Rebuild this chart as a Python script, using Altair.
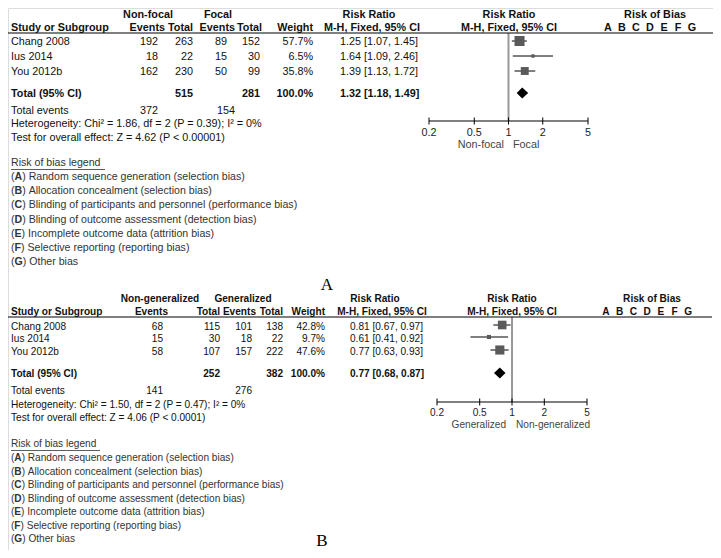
import altair as alt
import numpy as np
import pandas as pd

# ---------------- data ----------------
studies = ["Chang 2008", "Ius 2014", "You 2012b"]

# Panel A: Non-focal vs Focal
a_groups = ["Non-focal", "Focal"]
a_events1 = [192, 18, 162]
a_total1 = [263, 22, 230]
a_events2 = [89, 15, 50]
a_total2 = [152, 30, 99]
a_weight = [57.7, 6.5, 35.8]
a_rr = [1.25, 1.64, 1.39]
a_lo = [1.07, 1.09, 1.13]
a_hi = [1.45, 2.46, 1.72]
a_pooled = [1.32, 1.18, 1.49]
a_sum_total = [515, 281]
a_sum_weight = "100.0%"
a_sum_events = [372, 154]
a_het = ["1.86", "2", "0.39", "0"]
a_test = ["4.62", "< 0.00001"]
a_dir = ["Non-focal", "Focal"]

# Panel B: Non-generalized vs Generalized
b_groups = ["Non-generalized", "Generalized"]
b_events1 = [68, 15, 58]
b_total1 = [115, 30, 107]
b_events2 = [101, 18, 157]
b_total2 = [138, 22, 222]
b_weight = [42.8, 9.7, 47.6]
b_rr = [0.81, 0.61, 0.77]
b_lo = [0.67, 0.41, 0.63]
b_hi = [0.97, 0.92, 0.93]
b_pooled = [0.77, 0.68, 0.87]
b_sum_total = [252, 382]
b_sum_weight = "100.0%"
b_sum_events = [141, 276]
b_het = ["1.50", "2", "0.47", "0"]
b_test = ["4.06", "< 0.0001"]
b_dir = ["Generalized", "Non-generalized"]

ticks = [0.2, 0.5, 1, 2, 5]
tick_labels = ["0.2", "0.5", "1", "2", "5"]
bias_letters = ["A", "B", "C", "D", "E", "F", "G"]
bias_desc = [
    "Random sequence generation (selection bias)",
    "Allocation concealment (selection bias)",
    "Blinding of participants and personnel (performance bias)",
    "Blinding of outcome assessment (detection bias)",
    "Incomplete outcome data (attrition bias)",
    "Selective reporting (reporting bias)",
    "Other bias",
]
panel_labels = ["A", "B"]

# ---------------- layout ----------------
W, H = 705, 542
FONT = "Liberation Sans"
# layout coordinates are page pixels; the vertical ones are squeezed a little
# (only in blank gaps) so that everything fits inside the 8px page margin
PX = alt.Scale(domain=[8, 8 + W], range=[0, W], zero=False, nice=False)
PY = alt.Scale(domain=[8, 8 + H], range=[0, H], zero=False, nice=False)
SIZE = alt.Scale(domain=[0, 100], range=[0, 175])
BOLD_W = {"A": .722, "B": .722, "C": .722, "D": .722, "E": .667, "F": .611, "G": .778}

_ref = [0, 70, 84, 140, 158, 268, 296, 362, 376, 430, 447, 558]
_pag = [9, 79, 89, 145, 157, 267, 292, 358, 370, 424, 438, 549]


def YY(v):
    return float(np.interp(v, _ref, _pag))


LAYOUT = [
    dict(fs=10.8, lfs=10.6, h1=6, h2=19, line=24, rows=[33, 48, 63], total=89, tev=106, het=119, test=133,
         leg_title=164, leg0=178, leg_step=14.2, leg_ul=105, label=(327, 288),
         group_x=[148, 218], hdr_right=[165, 193, 235, 262, 313], val_right=[158, 193, 227, 260, 313],
         sum_ev_right=[158, 235], rr_x=340, rr_hdr=369, mh_x=372,
         frange=[429, 588], fdy=-1, axis_y=116, tl_y=128, dir_y=140, dir_x=[504, 513],
         fcenter=509, rob_c=655, rob_x0=608, rob_step=14, line_x=[5, 720], vcol="#999999", vw=2),
    dict(fs=10.1, lfs=10.1, h1=303, h2=316, line=321, rows=[331, 343, 356], total=380, tev=397, het=411,
         test=424, leg_title=453, leg0=467, leg_step=13.5, leg_ul=100, label=(322, 550),
         group_x=[160, 243], hdr_right=[168, 220, 256, 283, 325], val_right=[163, 220, 252, 283, 325],
         sum_ev_right=[163, 252], rr_x=350, rr_hdr=375, mh_x=382,
         frange=[437, 587], fdy=-2, axis_y=408, tl_y=419, dir_y=431, dir_x=[506, 516],
         fcenter=512, rob_c=652, rob_x0=606, rob_step=13.7, line_x=[5, 712], vcol="#333333", vw=1),
]

PANELS = [
    dict(groups=a_groups, e1=a_events1, t1=a_total1, e2=a_events2, t2=a_total2, w=a_weight,
         rr=a_rr, lo=a_lo, hi=a_hi, pooled=a_pooled, st=a_sum_total, sw=a_sum_weight, se=a_sum_events,
         het=a_het, test=a_test, dir=a_dir),
    dict(groups=b_groups, e1=b_events1, t1=b_total1, e2=b_events2, t2=b_total2, w=b_weight,
         rr=b_rr, lo=b_lo, hi=b_hi, pooled=b_pooled, st=b_sum_total, sw=b_sum_weight, se=b_sum_events,
         het=b_het, test=b_test, dir=b_dir),
]

items = []


def T(text, x, y, align="left", bold=False, fs=10.5, color="#111111", font=FONT):
    items.append(dict(text=str(text), x=x, y=YY(y), align=align, bold=bold, fs=fs, color=color, font=font))


def rrtxt(r, l, h):
    return f"{r:.2f} [{l:.2f}, {h:.2f}]"


layers = []
hrules = []

for P, L, plabel in zip(PANELS, LAYOUT, panel_labels):
    fs = L["fs"]
    lfs = L["lfs"]
    # header row 1
    T(P["groups"][0], L["group_x"][0], L["h1"], "center", True, fs)
    T(P["groups"][1], L["group_x"][1], L["h1"], "center", True, fs)
    T("Risk Ratio", L["rr_hdr"], L["h1"], "center", True, fs)
    T("Risk Ratio", L["fcenter"], L["h1"], "center", True, fs)
    T("Risk of Bias", L["rob_c"], L["h1"], "center", True, fs)
    # header row 2
    T("Study or Subgroup", 11, L["h2"], "left", True, fs)
    for lab, xr in zip(["Events", "Total", "Events", "Total", "Weight"], L["hdr_right"]):
        T(lab, xr, L["h2"], "right", True, fs)
    T("M-H, Fixed, 95% CI", L["mh_x"], L["h2"], "center", True, fs)
    T("M-H, Fixed, 95% CI", L["fcenter"], L["h2"], "center", True, fs)
    for i, letter in enumerate(bias_letters):
        T(letter, L["rob_x0"] + i * L["rob_step"], L["h2"], "center", True, fs)
    hrules.append(dict(x=L["line_x"][0], x2=L["line_x"][1], y=YY(L["line"]), c="#000000", w=1))
    # study rows
    vr = L["val_right"]
    for i, s in enumerate(studies):
        y = L["rows"][i]
        T(s, 11, y, "left", False, fs)
        T(P["e1"][i], vr[0], y, "right", False, fs)
        T(P["t1"][i], vr[1], y, "right", False, fs)
        T(P["e2"][i], vr[2], y, "right", False, fs)
        T(P["t2"][i], vr[3], y, "right", False, fs)
        T(f"{P['w'][i]:.1f}%", vr[4], y, "right", False, fs)
        T(rrtxt(P["rr"][i], P["lo"][i], P["hi"][i]), L["rr_x"], y, "left", False, fs)
    # totals
    y = L["total"]
    T("Total (95% CI)", 11, y, "left", True, fs)
    T(P["st"][0], vr[1], y, "right", True, fs)
    T(P["st"][1], vr[3], y, "right", True, fs)
    T(P["sw"], vr[4], y, "right", True, fs)
    T(rrtxt(*P["pooled"]), L["rr_x"], y, "left", True, fs)
    T("Total events", 11, L["tev"], "left", False, fs)
    T(P["se"][0], L["sum_ev_right"][0], L["tev"], "right", False, fs)
    T(P["se"][1], L["sum_ev_right"][1], L["tev"], "right", False, fs)
    h = P["het"]
    T(f"Heterogeneity: Chi\u00b2 = {h[0]}, df = {h[1]} (P = {h[2]}); I\u00b2 = {h[3]}%", 11, L["het"], "left", False, fs)
    T(f"Test for overall effect: Z = {P['test'][0]} (P {P['test'][1]})", 11, L["test"], "left", False, fs)
    # legend
    lc = "#333333"
    T("Risk of bias legend", 11, L["leg_title"], "left", False, lfs, lc)
    hrules.append(dict(x=11, x2=L["leg_ul"], y=YY(L["leg_title"] + 6.5), c=lc, w=0.8))
    for i, (letter, desc) in enumerate(zip(bias_letters, bias_desc)):
        y = L["leg0"] + i * L["leg_step"]
        x0 = 11
        T("(", x0, y, "left", False, lfs, lc)
        x1 = x0 + 0.333 * lfs
        T(letter, x1, y, "left", True, lfs, lc)
        x2 = x1 + BOLD_W[letter] * lfs
        T(")", x2, y, "left", False, lfs, lc)
        T(desc, x2 + 0.333 * lfs + 0.278 * lfs, y, "left", False, lfs, lc)
    # panel label
    T(plabel, L["label"][0], L["label"][1], "center", False, 17, "#000000", "Liberation Serif")
    # direction labels
    T(P["dir"][0], L["dir_x"][0], L["dir_y"], "right", False, fs, "#444444")
    T(P["dir"][1], L["dir_x"][1], L["dir_y"], "left", False, fs, "#444444")

    # ---------- forest plot ----------
    FX = alt.Scale(type="log", domain=[0.2, 5], range=[L["frange"][0] - 8, L["frange"][1] - 8], nice=False)
    df = pd.DataFrame(dict(rr=P["rr"], lo=P["lo"], hi=P["hi"], w=P["w"],
                           y=[YY(r + L["fdy"]) for r in L["rows"]]))
    ci = alt.Chart(df).mark_rule(color="#000000", strokeWidth=1).encode(
        x=alt.X("lo:Q", scale=FX, axis=None), x2="hi:Q",
        y=alt.Y("y:Q", scale=PY, axis=None))
    sq = alt.Chart(df).mark_square(color="#5a5a5a", opacity=1).encode(
        x=alt.X("rr:Q", scale=FX, axis=None),
        y=alt.Y("y:Q", scale=PY, axis=None),
        size=alt.Size("w:Q", scale=SIZE, legend=None))
    yc = YY(L["total"] - 1)
    est, lo, hi = P["pooled"]
    dd = pd.DataFrame(dict(x=[lo, est, hi], y=[yc, yc - 5.5, yc], y2=[yc, yc + 5.5, yc]))
    dia = alt.Chart(dd).mark_area(color="#000000", orient="vertical").encode(
        x=alt.X("x:Q", scale=FX, axis=None),
        y=alt.Y("y:Q", scale=PY, axis=None), y2="y2:Q")
    ay = YY(L["axis_y"])
    vdf = pd.DataFrame(dict(x=[1], y=[YY(L["line"])], y2=[ay]))
    vl = alt.Chart(vdf).mark_rule(color=L["vcol"], strokeWidth=L["vw"]).encode(
        x=alt.X("x:Q", scale=FX, axis=None),
        y=alt.Y("y:Q", scale=PY, axis=None), y2="y2:Q")
    adf = pd.DataFrame(dict(x=[min(ticks)], x2=[max(ticks)], y=[ay]))
    al = alt.Chart(adf).mark_rule(color="#000000", strokeWidth=1).encode(
        x=alt.X("x:Q", scale=FX, axis=None), x2="x2:Q",
        y=alt.Y("y:Q", scale=PY, axis=None))
    tdf = pd.DataFrame(dict(x=ticks, lab=tick_labels, y=[ay - 3.5] * len(ticks),
                            y2=[ay + 3.5] * len(ticks), ty=[YY(L["tl_y"])] * len(ticks)))
    tk = alt.Chart(tdf).mark_rule(color="#000000", strokeWidth=1).encode(
        x=alt.X("x:Q", scale=FX, axis=None),
        y=alt.Y("y:Q", scale=PY, axis=None), y2="y2:Q")
    tl = alt.Chart(tdf).mark_text(font=FONT, fontSize=fs, color="#222222", baseline="middle").encode(
        x=alt.X("x:Q", scale=FX, axis=None),
        y=alt.Y("ty:Q", scale=PY, axis=None), text="lab:N")
    layers += [vl, al, tk, tl, ci, sq, dia]

for r in hrules:
    rd = pd.DataFrame([r])
    layers.append(alt.Chart(rd).mark_rule(color=r["c"], strokeWidth=r["w"]).encode(
        x=alt.X("x:Q", scale=PX, axis=None), x2="x2:Q",
        y=alt.Y("y:Q", scale=PY, axis=None)))

tdf_all = pd.DataFrame(items)
for key, g in tdf_all.groupby(["align", "bold", "fs", "color", "font"]):
    align, bold, fsz, color, font = key
    layers.append(alt.Chart(g.reset_index(drop=True)).mark_text(
        align=align, baseline="middle", fontWeight="bold" if bold else "normal",
        fontSize=float(fsz), color=color, font=font).encode(
        x=alt.X("x:Q", scale=PX, axis=None),
        y=alt.Y("y:Q", scale=PY, axis=None),
        text="text:N"))

chart = alt.layer(*layers).resolve_scale(x="independent").properties(
    width=W, height=H, padding=0,
    autosize=alt.AutoSizeParams(type="none"),
).configure_view(stroke=None).configure(background="white")

chart.save("out.html", embed_options={"renderer": "svg", "actions": False})
